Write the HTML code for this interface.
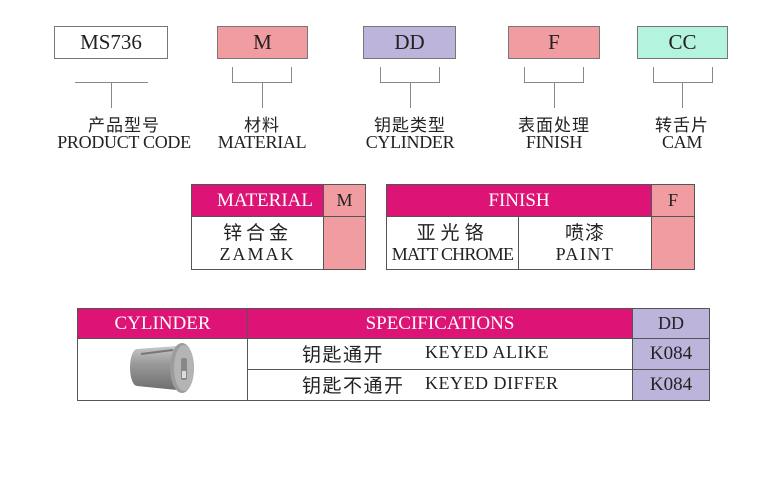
<!DOCTYPE html>
<html><head><meta charset="utf-8"><style>
body{margin:0;width:778px;height:500px;background:#fff;position:relative;overflow:hidden;font-family:"Liberation Serif","Noto Serif CJK SC",serif;color:#222}
.a{position:absolute;box-sizing:border-box}
.c{display:flex;align-items:center;justify-content:center;text-align:center}
.box{border:1px solid #777;font-size:21px}
.ln{position:absolute;background:#888}
.lbl{position:absolute;text-align:center;width:180px;line-height:18px}
.zh{font-family:"Noto Sans CJK SC",sans-serif;font-size:17px;letter-spacing:1px}
.en{font-size:18px;letter-spacing:-0.3px}
.mag{background:#dd1475;color:#fff;font-size:19px}
.pk{background:#f09ca1}
.pu{background:#bcb4da}
.b{border:1px solid #555}
.zb{font-family:"Noto Sans CJK SC",sans-serif;font-size:19px;letter-spacing:4px}
</style></head><body>
<div class="a c box" style="left:54px;top:26px;width:114px;height:33px;background:#fff">MS736</div>
<div class="a c box pk" style="left:217px;top:26px;width:91px;height:33px">M</div>
<div class="a c box pu" style="left:363px;top:26px;width:93px;height:33px">DD</div>
<div class="a c box pk" style="left:508px;top:26px;width:92px;height:33px">F</div>
<div class="a c box" style="left:637px;top:26px;width:91px;height:33px;background:#b4f4de">CC</div>
<div class="ln" style="left:75px;top:82px;width:73px;height:1px"></div>
<div class="ln" style="left:111px;top:82px;width:1px;height:26px"></div>
<div class="ln" style="left:232px;top:67px;width:1px;height:16px"></div>
<div class="ln" style="left:291px;top:67px;width:1px;height:16px"></div>
<div class="ln" style="left:232px;top:82px;width:60px;height:1px"></div>
<div class="ln" style="left:262px;top:82px;width:1px;height:26px"></div>
<div class="ln" style="left:380px;top:67px;width:1px;height:16px"></div>
<div class="ln" style="left:439px;top:67px;width:1px;height:16px"></div>
<div class="ln" style="left:380px;top:82px;width:60px;height:1px"></div>
<div class="ln" style="left:410px;top:82px;width:1px;height:26px"></div>
<div class="ln" style="left:524px;top:67px;width:1px;height:16px"></div>
<div class="ln" style="left:583px;top:67px;width:1px;height:16px"></div>
<div class="ln" style="left:524px;top:82px;width:60px;height:1px"></div>
<div class="ln" style="left:554px;top:82px;width:1px;height:26px"></div>
<div class="ln" style="left:653px;top:67px;width:1px;height:16px"></div>
<div class="ln" style="left:712px;top:67px;width:1px;height:16px"></div>
<div class="ln" style="left:653px;top:82px;width:60px;height:1px"></div>
<div class="ln" style="left:682px;top:82px;width:1px;height:26px"></div>
<div class="lbl" style="left:34px;top:115px"><div class="zh">产品型号</div><div class="en">PRODUCT CODE</div></div>
<div class="lbl" style="left:172px;top:115px"><div class="zh">材料</div><div class="en">MATERIAL</div></div>
<div class="lbl" style="left:320px;top:115px"><div class="zh">钥匙类型</div><div class="en">CYLINDER</div></div>
<div class="lbl" style="left:464px;top:115px"><div class="zh">表面处理</div><div class="en">FINISH</div></div>
<div class="lbl" style="left:592px;top:115px"><div class="zh">转舌片</div><div class="en">CAM</div></div>
<div class="a b c mag" style="left:191px;top:184px;width:133px;height:33px;justify-content:flex-end;padding-right:10px">MATERIAL</div>
<div class="a b c pk" style="left:323px;top:184px;width:43px;height:33px;font-size:18px">M</div>
<div class="a b c" style="left:191px;top:216px;width:133px;height:54px;flex-direction:column;line-height:22px"><div class="zb">锌合金</div><div style="font-size:18px;letter-spacing:2px">ZAMAK</div></div>
<div class="a b pk" style="left:323px;top:216px;width:43px;height:54px"></div>
<div class="a b c mag" style="left:386px;top:184px;width:266px;height:33px">FINISH</div>
<div class="a b c pk" style="left:651px;top:184px;width:44px;height:33px;font-size:18px">F</div>
<div class="a b c" style="left:386px;top:216px;width:133px;height:54px;flex-direction:column;line-height:22px"><div class="zb" style="letter-spacing:5px">亚光铬</div><div style="font-size:18px;letter-spacing:-0.8px">MATT CHROME</div></div>
<div class="a b c" style="left:518px;top:216px;width:134px;height:54px;flex-direction:column;line-height:22px"><div class="zb" style="letter-spacing:1px">喷漆</div><div style="font-size:18px;letter-spacing:1.5px">PAINT</div></div>
<div class="a b pk" style="left:651px;top:216px;width:44px;height:54px"></div>
<div class="a b c mag" style="left:77px;top:308px;width:171px;height:31px">CYLINDER</div>
<div class="a b c mag" style="left:247px;top:308px;width:386px;height:31px">SPECIFICATIONS</div>
<div class="a b c pu" style="left:632px;top:308px;width:78px;height:31px;font-size:18px">DD</div>
<div class="a b" style="left:77px;top:338px;width:171px;height:63px"></div>
<div class="a b" style="left:247px;top:338px;width:386px;height:32px"></div>
<div class="a b" style="left:247px;top:369px;width:386px;height:32px"></div>
<div class="a zb" style="left:302px;top:340px;letter-spacing:1.5px">钥匙通开</div>
<div class="a" style="left:425px;top:342px;font-size:18px;letter-spacing:0.5px">KEYED ALIKE</div>
<div class="a zb" style="left:302px;top:371px;letter-spacing:1.5px">钥匙不通开</div>
<div class="a" style="left:425px;top:373px;font-size:18px;letter-spacing:0.5px">KEYED DIFFER</div>
<div class="a b c pu" style="left:632px;top:338px;width:78px;height:32px;font-size:19px">K084</div>
<div class="a b c pu" style="left:632px;top:369px;width:78px;height:32px;font-size:19px">K084</div>
<svg class="a" style="left:125px;top:340px" width="80" height="58" viewBox="0 0 80 58">
<defs><linearGradient id="g" x1="0" y1="0" x2="0" y2="1"><stop offset="0" stop-color="#c8c8c8"/><stop offset=".4" stop-color="#9a9a9a"/><stop offset="1" stop-color="#6e6e6e"/></linearGradient></defs>
<path d="M12 9 L52 6 L52 50 L12 46 A7 18.5 0 0 1 12 9Z" fill="url(#g)"/>
<ellipse cx="57" cy="28" rx="12" ry="25" fill="#9c9c9c"/>
<ellipse cx="59" cy="28" rx="10" ry="23" fill="#b4b4b4"/>
<rect x="56" y="18" width="6" height="22" rx="2" fill="#888"/>
<rect x="57" y="31" width="4" height="7" fill="#ddd"/>
<path d="M16 14 L48 10" stroke="#777" stroke-width="2"/>
</svg>
</body></html>
